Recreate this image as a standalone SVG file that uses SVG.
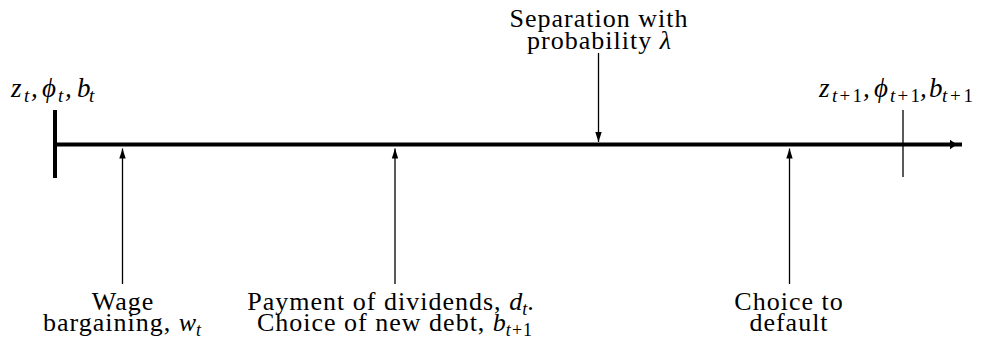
<svg xmlns="http://www.w3.org/2000/svg" width="990" height="343" viewBox="0 0 990 343">
  <style>
    text { font-family: Liberation Serif, DejaVu Serif, Times New Roman, serif; fill: #000; }
    .t { font-size: 26px; letter-spacing: 1px; }
    .c { text-anchor: middle; }
    .m { font-style: italic; letter-spacing: 0; }
    .s { font-size: 18px; }
    .ms { font-style: italic; font-size: 27px; }
    .ss { font-size: 19px; }
    .si { font-style: italic; }
    .arr { stroke: #000; stroke-width: 1.3; fill: none; }
  </style>
  <defs>
    <marker id="ah" markerUnits="userSpaceOnUse" markerWidth="12" markerHeight="12" refX="10" refY="5" orient="auto">
      <path d="M0,1.8 L10,5 L0,8.2 Z" fill="#000"/>
    </marker>
  </defs>

  <!-- timeline -->
  <g id="timeline">
    <line x1="55" y1="110" x2="55" y2="178" stroke="#000" stroke-width="4"/>
    <line x1="55" y1="144.5" x2="962" y2="144.5" stroke="#000" stroke-width="4"/>
    <polygon points="950,139.8 957,144.5 950,149.2" fill="#000"/>
    <line x1="903" y1="110" x2="903" y2="177" stroke="#000" stroke-width="1.3"/>
  </g>

  <!-- start state label -->
  <g id="label-start">
    <text class="ms" x="11" y="97">z</text>
    <text class="ss si" x="24" y="102">t</text>
    <text class="ms" x="31" y="97" font-style="normal">,</text>
    <text class="ms" x="42" y="97">ϕ</text>
    <text class="ss si" x="58" y="102">t</text>
    <text class="ms" x="65" y="97" font-style="normal">,</text>
    <text class="ms" x="77" y="97">b</text>
    <text class="ss si" x="89" y="102">t</text>
  </g>

  <!-- end state label -->
  <g id="label-end">
    <text class="ms" x="819" y="97">z</text>
    <text class="ss" x="832" y="102" textLength="30" lengthAdjust="spacing"><tspan font-style="italic">t</tspan>+1</text>
    <text class="ms" x="863" y="97" font-style="normal">,</text>
    <text class="ms" x="874" y="97">ϕ</text>
    <text class="ss" x="890" y="102" textLength="30" lengthAdjust="spacing"><tspan font-style="italic">t</tspan>+1</text>
    <text class="ms" x="920" y="97" font-style="normal">,</text>
    <text class="ms" x="929" y="97">b</text>
    <text class="ss" x="942" y="102" textLength="31" lengthAdjust="spacing"><tspan font-style="italic">t</tspan>+1</text>
  </g>

  <!-- separation -->
  <g id="event-separation">
    <text class="t c" x="599" y="27">Separation with</text>
    <text class="t c" x="599" y="48.5">probability <tspan class="m">λ</tspan></text>
  </g>

  <!-- wage bargaining -->
  <g id="event-wage">
    <text class="t c" x="123" y="310">Wage</text>
    <text class="t c" x="122" y="331">bargaining, <tspan class="m">w</tspan><tspan class="m s" dy="5">t</tspan></text>
  </g>

  <!-- dividends / debt -->
  <g id="event-dividends">
    <text class="t c" x="391" y="310">Payment of dividends, <tspan class="m">d</tspan><tspan class="m s" dy="5">t</tspan><tspan dy="-5">.</tspan></text>
    <text class="t c" x="395" y="331">Choice of new debt, <tspan class="m">b</tspan><tspan class="s" dy="5"><tspan font-style="italic">t</tspan>+1</tspan></text>
  </g>

  <!-- default -->
  <g id="event-default">
    <text class="t c" x="789" y="310">Choice to</text>
    <text class="t c" x="789" y="331">default</text>
  </g>

  <!-- connectors -->
  <g id="connectors">
    <line class="arr" x1="122.5" y1="284" x2="122.5" y2="148.5" marker-end="url(#ah)"/>
    <line class="arr" x1="395" y1="284" x2="395" y2="148.5" marker-end="url(#ah)"/>
    <line class="arr" x1="789.5" y1="284" x2="789.5" y2="148.5" marker-end="url(#ah)"/>
    <line class="arr" x1="598.5" y1="53" x2="598.5" y2="142" marker-end="url(#ah)"/>
  </g>
</svg>
